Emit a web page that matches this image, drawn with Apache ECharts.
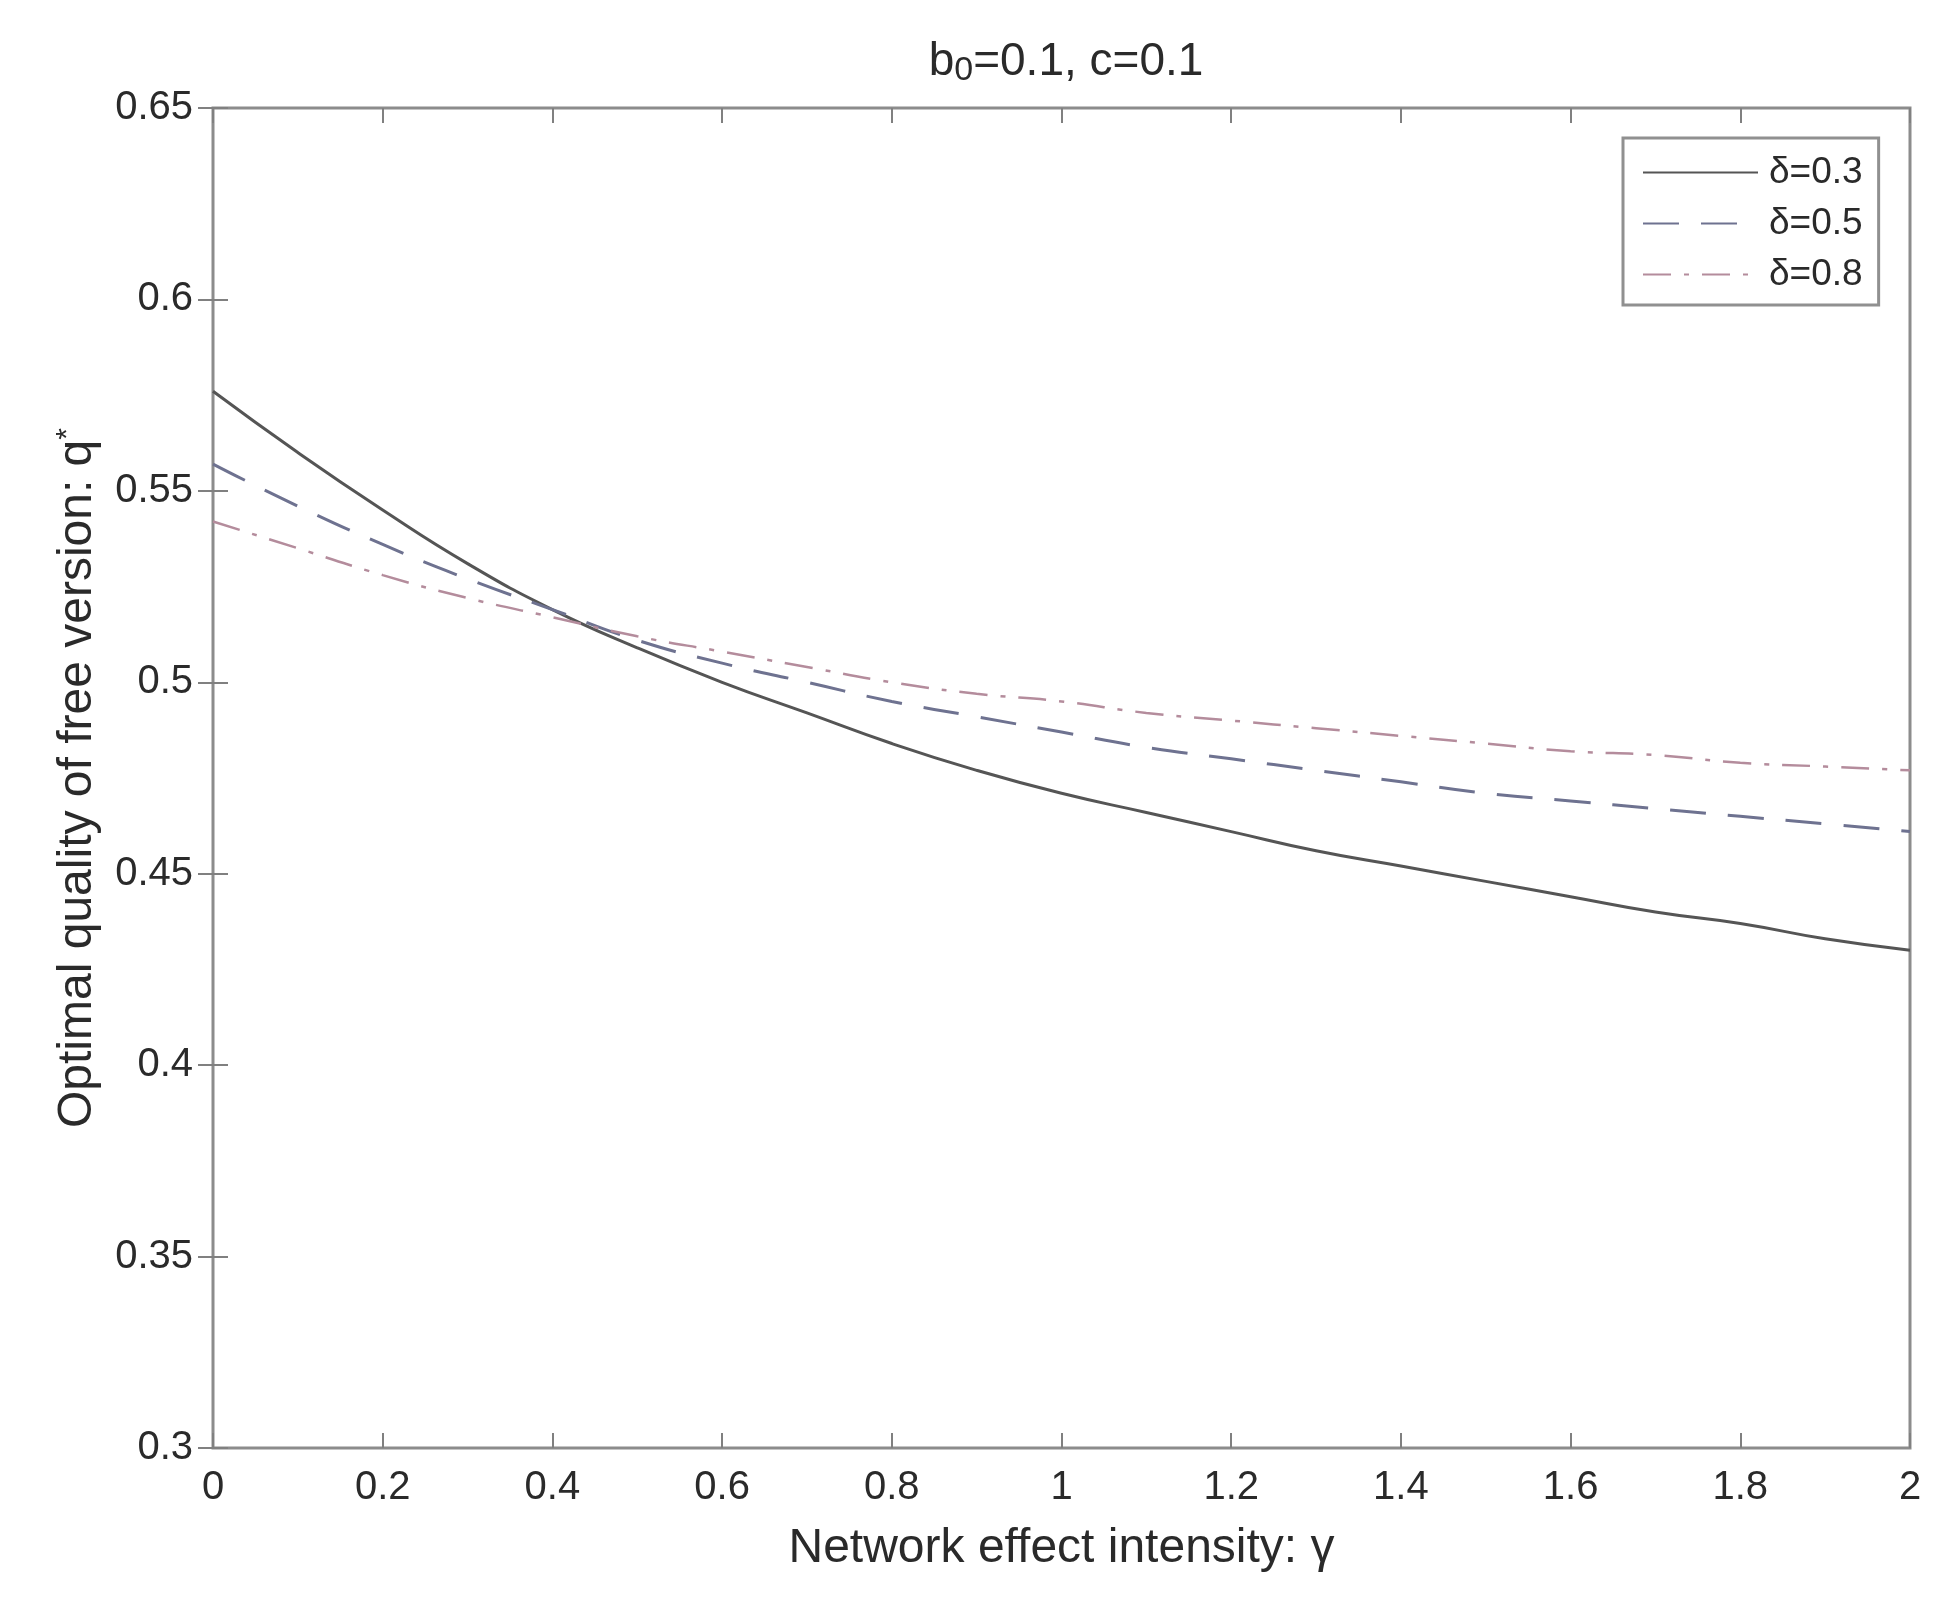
<!DOCTYPE html>
<html>
<head>
<meta charset="utf-8">
<title>b0=0.1, c=0.1</title>
<script src="https://cdn.jsdelivr.net/npm/echarts@6/dist/echarts.min.js"></script>
<style>
	* { margin: 0; padding: 0; }
	body { background: #fff; }
</style>
</head>
<body>
<!-- chart container, same size as the window -->
<div id="main" style="width: 1948px; height: 1609px;"></div>
<script>
	// network effect intensity (x)
	const gammaVals = [0, 0.1, 0.2, 0.3, 0.4, 0.5, 0.6, 0.7, 0.8, 0.9, 1.0,
		1.1, 1.2, 1.3, 1.4, 1.5, 1.6, 1.7, 1.8, 1.9, 2.0];
	// optimal quality of free version q*
	const qDelta03 = [0.576, 0.560, 0.545, 0.531, 0.519, 0.509, 0.500, 0.492, 0.484, 0.477, 0.471,
		0.466, 0.461, 0.456, 0.452, 0.448, 0.444, 0.440, 0.437, 0.433, 0.430];
	const qDelta05 = [0.557, 0.546, 0.536, 0.527, 0.519, 0.511, 0.505, 0.500, 0.495, 0.491, 0.487,
		0.483, 0.480, 0.477, 0.474, 0.471, 0.469, 0.467, 0.465, 0.463, 0.461];
	const qDelta08 = [0.542, 0.535, 0.528, 0.522, 0.517, 0.512, 0.508, 0.504, 0.500, 0.497, 0.495,
		0.492, 0.490, 0.488, 0.486, 0.484, 0.482, 0.481, 0.479, 0.478, 0.477];
	const seriesNames = ['δ=0.3', 'δ=0.5', 'δ=0.8'];

	const font = '"Liberation Sans", Arial, sans-serif';
	const textColor = '#2a2a2a';

	function pairs(ys) {
		return gammaVals.map(function (g, i) { return [g, ys[i]]; });
	}

	// box axes: labels only on bottom/left, inward ticks on all four sides
	function xAx(pos, labels) {
		return {
			type: 'value', position: pos, min: 0, max: 2, interval: 0.2,
			axisLine: { show: false },
			axisTick: { show: true, inside: true, length: 15, lineStyle: { color: '#808080', width: 2 } },
			splitLine: { show: false },
			axisLabel: { show: labels, color: textColor, fontSize: 40, fontFamily: font, margin: 20 }
		};
	}
	function yAx(pos, labels) {
		return {
			type: 'value', position: pos, min: 0.3, max: 0.65, interval: 0.05,
			axisLine: { show: false },
			axisTick: { show: true, inside: true, length: 15, lineStyle: { color: '#808080', width: 2 } },
			splitLine: { show: false },
			axisLabel: { show: labels, color: textColor, fontSize: 40, fontFamily: font, margin: 20 }
		};
	}

	const chart = echarts.init(document.getElementById('main'));

	const xBottom = xAx('bottom', true);
	xBottom.name = 'Network effect intensity: γ';
	xBottom.nameLocation = 'middle';
	xBottom.nameGap = 77;
	xBottom.nameTextStyle = { color: textColor, fontSize: 48, fontFamily: font };

	const yLeft = yAx('left', true);
	yLeft.name = 'Optimal quality of free version: q{sup|*}';
	yLeft.nameLocation = 'middle';
	yLeft.nameGap = 110;
	yLeft.nameTextStyle = {
		color: textColor, fontSize: 48, fontFamily: font,
		rich: { sup: { fontSize: 30, fontFamily: font, color: textColor, verticalAlign: 'top', padding: [0, 0, 20, 0] } }
	};

	chart.setOption({
		backgroundColor: '#fff',
		animation: false,
		title: {
			text: 'b{sub|0}=0.1, c=0.1',
			left: 1061,
			top: 31,
			textAlign: 'center',
			textStyle: {
				color: textColor, fontSize: 46, fontWeight: 'normal', fontFamily: font,
				rich: { sub: { fontSize: 34, fontFamily: font, color: textColor, padding: [18, 0, 0, 0] } }
			}
		},
		grid: {
			left: 213, right: 38, top: 108, bottom: 161,
			show: true, borderColor: '#8c8c8c', borderWidth: 3
		},
		legend: {
			orient: 'vertical',
			left: 1623,
			top: 138,
			width: 256,
			padding: [16, 16, 12, 19],
			itemWidth: 115,
			itemHeight: 12,
			itemGap: 14,
			borderColor: '#909090',
			borderWidth: 3,
			backgroundColor: '#fff',
			itemStyle: { opacity: 0 },
			data: seriesNames,
			textStyle: { color: textColor, fontSize: 37, fontFamily: font, padding: [0, 0, 0, 6] }
		},
		xAxis: [xBottom, xAx('top', false)],
		yAxis: [yLeft, yAx('right', false)],
		series: [
			{
				name: seriesNames[0], type: 'line', symbol: 'none', smooth: true,
				lineStyle: { color: '#555555', width: 3, type: 'solid' },
				itemStyle: { color: '#555555' },
				data: pairs(qDelta03)
			},
			{
				name: seriesNames[1], type: 'line', symbol: 'none', smooth: true,
				lineStyle: { color: '#6e7290', width: 3, type: [36, 22] },
				itemStyle: { color: '#6e7290' },
				data: pairs(qDelta05)
			},
			{
				name: seriesNames[2], type: 'line', symbol: 'none', smooth: true,
				lineStyle: { color: '#b48c9c', width: 2.5, type: [28, 13, 5, 13] },
				itemStyle: { color: '#b48c9c' },
				data: pairs(qDelta08)
			}
		]
	});
</script>
</body>
</html>
